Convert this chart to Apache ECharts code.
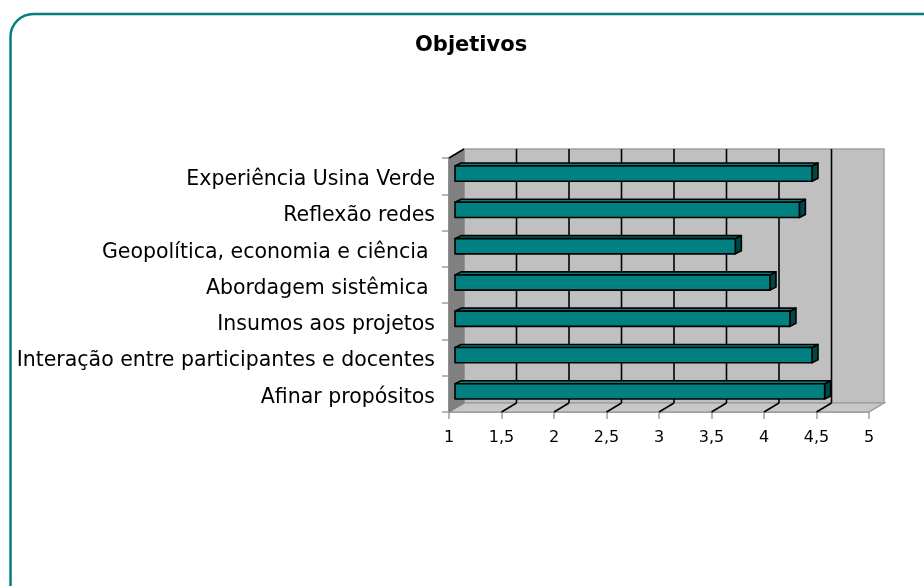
<!DOCTYPE html>
<html><head><meta charset="utf-8">
<script src="https://cdn.jsdelivr.net/npm/echarts@6/dist/echarts.min.js"></script>
<style>html,body{margin:0;padding:0;background:#fff}#c{width:924px;height:586px}</style>
</head><body><div id="c"></div>
<script>
const categories = ['Experiência Usina Verde', 'Reflexão redes', 'Geopolítica, economia e ciência ', 'Abordagem sistêmica ', 'Insumos aos projetos', 'Interação entre participantes e docentes', 'Afinar propósitos'];
const values = [4.40, 4.28, 3.67, 4.00, 4.19, 4.40, 4.52];
const xTicks = [1, 1.5, 2, 2.5, 3, 3.5, 4, 4.5, 5];
const xMin = 1, xMax = 5, xStep = 0.5;
const titleText = 'Objetivos';

const D = [15, -9];     // back wall depth offset
const BF = [6, -2.5];   // bar front face offset
const BB = [12, -5.5];  // bar back face offset

const chart = echarts.init(document.getElementById('c'));

function renderWalls(params, api) {
  const cs = params.coordSys;
  const x0 = cs.x, x1 = cs.x + cs.width, y0 = cs.y, y1 = cs.y + cs.height;
  const ch = [];
  ch.push({type: 'polygon', shape: {points: [[x0 + D[0], y0 + D[1]], [x1 + D[0], y0 + D[1]], [x1 + D[0], y1 + D[1]], [x0 + D[0], y1 + D[1]]]},
    style: {fill: '#c0c0c0', stroke: '#a0a0a0', lineWidth: 1.5}});
  ch.push({type: 'polygon', shape: {points: [[x0, y1], [x0 + D[0], y1 + D[1]], [x1 + D[0], y1 + D[1]], [x1, y1]]},
    style: {fill: '#c8c8c8', stroke: '#a0a0a0', lineWidth: 1.5}});
  ch.push({type: 'polygon', shape: {points: [[x0, y0], [x0 + D[0], y0 + D[1]], [x0 + D[0], y1 + D[1]], [x0, y1]]},
    style: {fill: '#808080', stroke: '#808080', lineWidth: 1}});
  xTicks.forEach(function (v) {
    if (v === xMin || v === xMax) return;
    const x = api.coord([v, 0])[0];
    ch.push({type: 'line', shape: {x1: x + D[0], y1: y0 + D[1], x2: x + D[0], y2: y1 + D[1]}, style: {stroke: '#000', lineWidth: 1.6}});
    ch.push({type: 'line', shape: {x1: x, y1: y1, x2: x + D[0], y2: y1 + D[1]}, style: {stroke: '#000', lineWidth: 1.6}});
  });
  ch.push({type: 'line', shape: {x1: x0, y1: y0, x2: x0 + D[0], y2: y0 + D[1]}, style: {stroke: '#000', lineWidth: 1.6}});
  return {type: 'group', children: ch};
}

function renderBar(params, api) {
  const idx = api.value(0), v = api.value(1);
  const p0 = api.coord([xMin, idx]), p1 = api.coord([v, idx]);
  const h = api.size([0, 1])[1] * 0.42;
  const fl = p0[0] + BF[0], fr = p1[0] + BF[0];
  const ft = p0[1] - h / 2 + BF[1], fb = p0[1] + h / 2 + BF[1];
  const dx = BB[0] - BF[0], dy = BB[1] - BF[1];
  const st = {stroke: '#000', lineWidth: 1.6, lineJoin: 'round'};
  return {type: 'group', children: [
    {type: 'polygon', shape: {points: [[fr, ft], [fr + dx, ft + dy], [fr + dx, fb + dy], [fr, fb]]}, style: Object.assign({fill: '#004848'}, st)},
    {type: 'polygon', shape: {points: [[fl, ft], [fl + dx, ft + dy], [fr + dx, ft + dy], [fr, ft]]}, style: Object.assign({fill: '#008080'}, st)},
    {type: 'rect', shape: {x: fl, y: ft, width: fr - fl, height: fb - ft}, style: Object.assign({fill: '#008080'}, st)}
  ]};
}

chart.setOption({
  animation: false,
  backgroundColor: '#ffffff',
  title: {text: titleText, left: 410, top: 30,
    textStyle: {fontFamily: 'DejaVu Sans', fontWeight: 'bold', fontSize: 21, color: '#000'}},
  graphic: [{type: 'rect', left: 8, top: 11.5, shape: {width: 940, height: 600, r: 23}, z: -10,
    style: {fill: 'none', stroke: '#008080', lineWidth: 2.5}}],
  grid: {left: 449, top: 158, width: 420, height: 254, containLabel: false},
  xAxis: {type: 'value', min: xMin, max: xMax, interval: xStep,
    axisLine: {show: true, lineStyle: {color: '#808080', width: 1.5}},
    axisTick: {show: true, length: 7, lineStyle: {color: '#a0a0a0', width: 1.5}},
    splitLine: {show: false},
    axisLabel: {margin: 18, fontFamily: 'DejaVu Sans', fontSize: 16, color: '#000',
      formatter: function (v) { return String(v).replace('.', ','); }}},
  yAxis: {type: 'category', data: categories, inverse: true,
    axisLine: {show: true, lineStyle: {color: '#808080', width: 1.5}},
    axisTick: {show: true, length: 7, lineStyle: {color: '#a0a0a0', width: 1.5}},
    splitLine: {show: false},
    axisLabel: {margin: 14, fontFamily: 'DejaVu Sans', fontSize: 20.5, color: '#000', verticalAlign: 'top', lineHeight: 7}},
  series: [
    {type: 'custom', name: 'walls', renderItem: renderWalls, data: [[0, xMin]], encode: {x: 1, y: 0}, z: 1, silent: true},
    {type: 'custom', name: 'Objetivos', renderItem: renderBar, data: values.map(function (v, i) { return [i, v]; }), encode: {x: 1, y: 0}, z: 3}
  ]
});
</script></body></html>
